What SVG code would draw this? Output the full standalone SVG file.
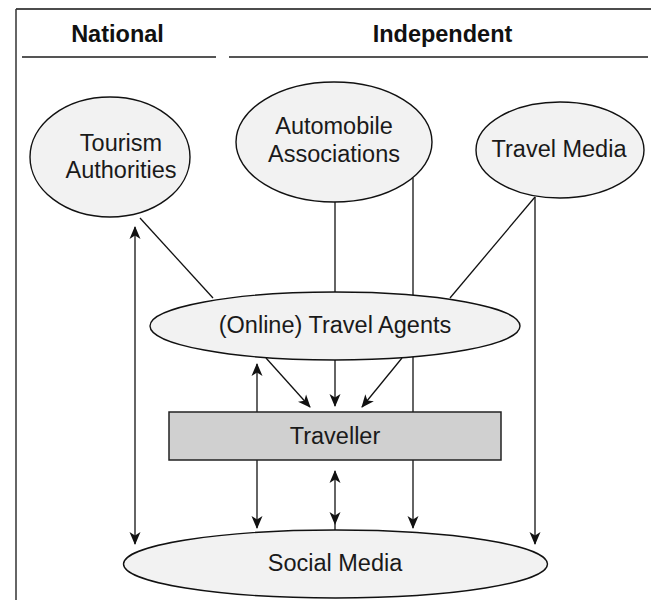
<svg xmlns="http://www.w3.org/2000/svg" width="651" height="600" viewBox="0 0 651 600">
  <style>
    .lbl { font-family: "Liberation Sans", Arial, sans-serif; font-size: 23.5px; fill: #1a1a1a; text-anchor: middle; }
    .head { font-family: "Liberation Sans", Arial, sans-serif; font-size: 23.5px; font-weight: bold; fill: #111; text-anchor: middle; }
    .oval { fill: #f2f2f2; stroke: #111; stroke-width: 1.4; }
    .box { fill: #d0d0d0; stroke: #222; stroke-width: 1.5; }
    .link { stroke: #111; stroke-width: 1.3; fill: none; }
    .rule { stroke: #555; stroke-width: 2.2; }
  </style>
  <defs>
    <marker id="arrow" viewBox="0 0 13 12" refX="12" refY="6" markerWidth="13" markerHeight="12" markerUnits="userSpaceOnUse" orient="auto-start-reverse">
      <path d="M0,0.5 L13,6 L0,11.5 L3.5,6 z" fill="#111"/>
    </marker>
  </defs>

  <rect width="651" height="600" fill="#fff"/>

  <!-- frame and column headings -->
  <g id="frame">
    <line x1="16" y1="9" x2="651" y2="9" stroke="#111" stroke-width="1.5"/>
    <line x1="16" y1="9" x2="16" y2="600" stroke="#333" stroke-width="1.5"/>
    <line class="rule" x1="22" y1="57" x2="216" y2="57"/>
    <line class="rule" x1="229" y1="57" x2="648" y2="57"/>
    <text class="head" x="117.5" y="42">National</text>
    <text class="head" x="442.5" y="42">Independent</text>
  </g>

  <!-- connectors (drawn beneath the nodes) -->
  <g id="connectors">
    <line class="link" x1="140" y1="218" x2="213" y2="298"/>
    <line class="link" x1="335" y1="202" x2="335" y2="293"/>
    <line class="link" x1="535" y1="197" x2="450" y2="298"/>
    <line class="link" x1="413" y1="178" x2="413" y2="528" marker-end="url(#arrow)"/>
    <line class="link" x1="535" y1="197" x2="535" y2="544" marker-end="url(#arrow)"/>
    <line class="link" x1="135" y1="227" x2="135" y2="544" marker-start="url(#arrow)" marker-end="url(#arrow)"/>
    <line class="link" x1="257" y1="412" x2="257" y2="364" marker-end="url(#arrow)"/>
    <line class="link" x1="266" y1="358" x2="310" y2="407" marker-end="url(#arrow)"/>
    <line class="link" x1="335" y1="360" x2="335" y2="406" marker-end="url(#arrow)"/>
    <line class="link" x1="402" y1="358" x2="362" y2="407" marker-end="url(#arrow)"/>
    <line class="link" x1="257" y1="460" x2="257" y2="528" marker-end="url(#arrow)"/>
    <line class="link" x1="335" y1="530" x2="335" y2="524"/>
    <line class="link" x1="335" y1="471" x2="335" y2="524" marker-start="url(#arrow)" marker-end="url(#arrow)"/>
  </g>

  <g id="tourism-authorities">
    <ellipse class="oval" cx="110" cy="157" rx="80" ry="60"/>
    <text class="lbl" x="121" y="151">Tourism</text>
    <text class="lbl" x="121" y="178">Authorities</text>
  </g>

  <g id="automobile-associations">
    <ellipse class="oval" cx="334" cy="142" rx="98" ry="60"/>
    <text class="lbl" x="334" y="134">Automobile</text>
    <text class="lbl" x="334" y="162">Associations</text>
  </g>

  <g id="travel-media">
    <ellipse class="oval" cx="560" cy="150" rx="84" ry="48"/>
    <text class="lbl" x="559" y="157">Travel Media</text>
  </g>

  <g id="online-travel-agents">
    <ellipse class="oval" cx="335" cy="326" rx="185" ry="34"/>
    <text class="lbl" x="335" y="333">(Online) Travel Agents</text>
  </g>

  <g id="traveller">
    <rect class="box" x="169" y="412" width="332" height="48"/>
    <text class="lbl" x="335" y="444">Traveller</text>
  </g>

  <g id="social-media">
    <ellipse class="oval" cx="335.5" cy="564" rx="212" ry="34"/>
    <text class="lbl" x="335" y="571">Social Media</text>
  </g>
</svg>
